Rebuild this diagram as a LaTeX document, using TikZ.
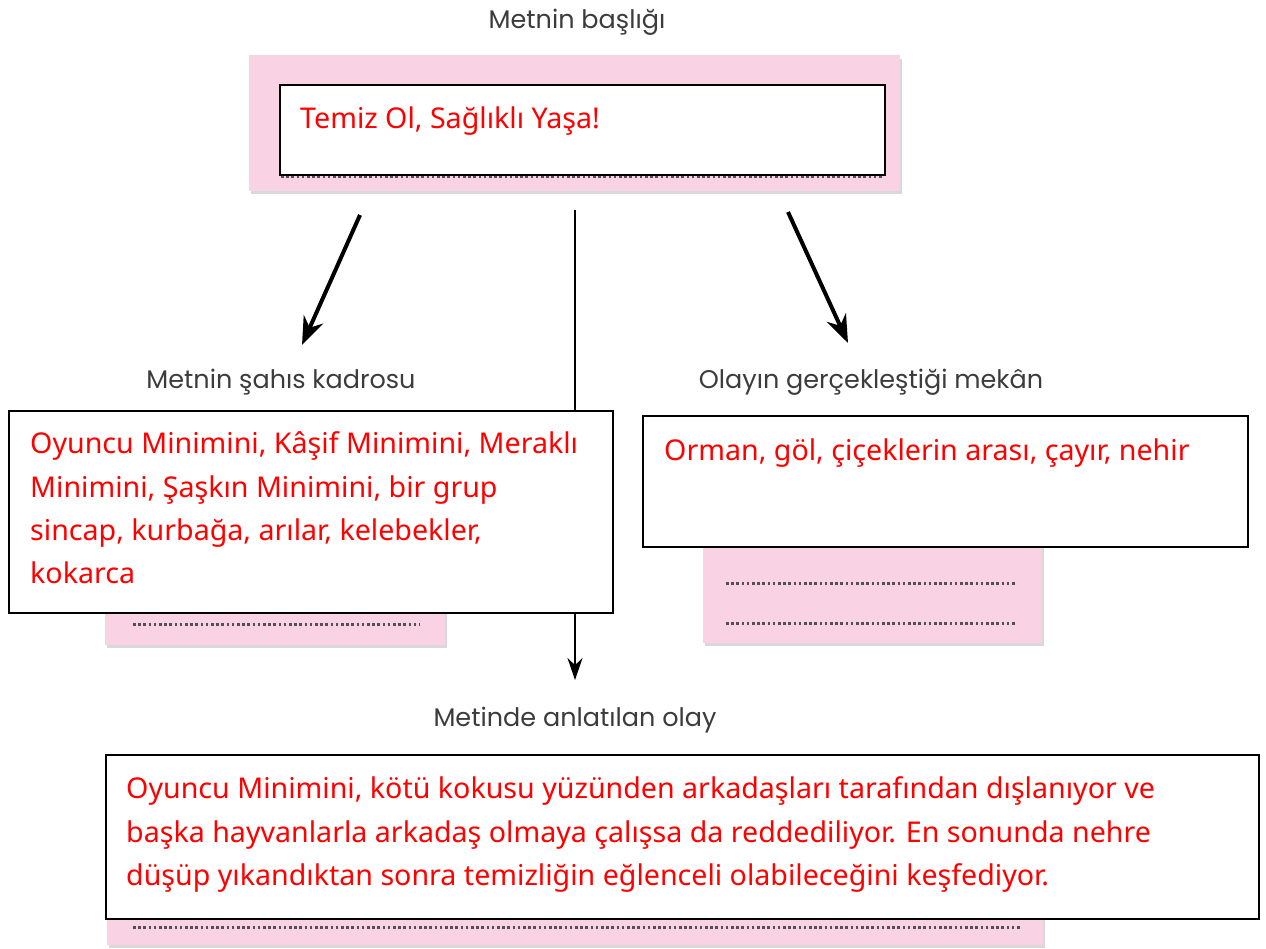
\documentclass[tikz,border=0pt]{standalone}
\usepackage{fontspec}
\setmainfont{Noto Sans}
\newfontfamily\labelfont{Poppins}
\usetikzlibrary{arrows.meta}
\definecolor{pinkbg}{HTML}{F9D3E3}
\definecolor{redtxt}{HTML}{FF0000}
\definecolor{labelgray}{HTML}{3C3C3C}
\definecolor{dotgray}{HTML}{505050}
\begin{document}
\begin{tikzpicture}[x=1pt,y=-1pt,
  pinkbox/.style={fill=pinkbg, draw=none},
  shadowbox/.style={fill=black!15, draw=none},
  whitebox/.style={draw=black, line width=2pt, fill=white},
  dotline/.style={draw=dotgray, line width=3pt, dash pattern=on 2.6pt off 2.6pt},
  redtext/.style={text=redtxt, font=\fontsize{28.6}{34}\selectfont, anchor=base west, inner sep=0pt},
  lbl/.style={text=labelgray, font=\labelfont\fontsize{25.5}{30}\selectfont, anchor=base, inner sep=0pt},
  bigarrow/.style={line width=4pt, -{Stealth[length=28pt,width=21pt]}},
  thinarrow/.style={line width=2.6pt, -{Stealth[length=22pt,width=15pt]}},
]
\useasboundingbox (0,0) rectangle (1266,948);
\fill[white] (0,0) rectangle (1266,948);

% ---------- title ----------
\node[lbl] (ltitle) at (577,28) {Metnin başlığı};
\fill[shadowbox] (251,59) rectangle (902,194);
\fill[pinkbox] (249,55) rectangle (900,191);
\draw[dotline] (281,176) -- (882,176);
\node[whitebox, minimum width=605pt, minimum height=90pt, anchor=north west, inner sep=0pt] (tbox) at (279,84) {};
\node[redtext] (ttext) at (300,128) {Temiz Ol, Sağlıklı Yaşa!};

% ---------- connectors ----------
\coordinate (s1) at (360,215);
\coordinate (e1) at (302,345);
\coordinate (s2) at (575,210);
\coordinate (e2) at (575,680);
\coordinate (s3) at (788,212);
\coordinate (e3) at (848,343);
\draw[bigarrow] (s1) -- (e1);
\draw[bigarrow] (s3) -- (e3);
\draw[thinarrow] (s2) -- (e2);

% ---------- labels ----------
\node[lbl] (lleft) at (281,388) {Metnin şahıs kadrosu};
\node[lbl] (lright) at (871,388) {Olayın gerçekleştiği mekân};
\node[lbl] (lbottom) at (575,726) {Metinde anlatılan olay};

% ---------- left box ----------
\fill[shadowbox] (107,565) rectangle (447,648);
\fill[pinkbox] (105,560) rectangle (445,645);
\draw[dotline] (133,624) -- (420,624);
\node[whitebox, minimum width=604pt, minimum height=202pt, anchor=north west, inner sep=0pt] (lbox) at (8,410) {};
\node[redtext] (l1) at (30,453) {Oyuncu Minimini, Kâşif Minimini, Meraklı};
\node[redtext] (l2) at (30,497) {Minimini, Şaşkın Minimini, bir grup};
\node[redtext] (l3) at (30,540) {sincap, kurbağa, arılar, kelebekler,};
\node[redtext] (l4) at (30,583) {kokarca};

% ---------- right box ----------
\fill[shadowbox] (705,535) rectangle (1044,646);
\fill[pinkbox] (703,530) rectangle (1042,643);
\draw[dotline] (726,583) -- (1017,583);
\draw[dotline] (726,623) -- (1017,623);
\node[whitebox, minimum width=605pt, minimum height=131pt, anchor=north west, inner sep=0pt] (rbox) at (642,415) {};
\node[redtext] (r1) at (664,460) {Orman, göl, çiçeklerin arası, çayır, nehir};

% ---------- bottom box ----------
\fill[shadowbox] (109,905) rectangle (1045,948);
\fill[pinkbox] (107,900) rectangle (1043,945);
\draw[dotline] (133,927) -- (1020,927);
\node[whitebox, minimum width=1153pt, minimum height=164pt, anchor=north west, inner sep=0pt] (bbox) at (105,754) {};
\node[redtext] (b1) at (126,798) {Oyuncu Minimini, kötü kokusu yüzünden arkadaşları tarafından dışlanıyor ve};
\node[redtext] (b2) at (126,842) {başka hayvanlarla arkadaş olmaya çalışsa da reddediliyor. En sonunda nehre};
\node[redtext] (b3) at (126,885) {düşüp yıkandıktan sonra temizliğin eğlenceli olabileceğini keşfediyor.};
\end{tikzpicture}
\end{document}
